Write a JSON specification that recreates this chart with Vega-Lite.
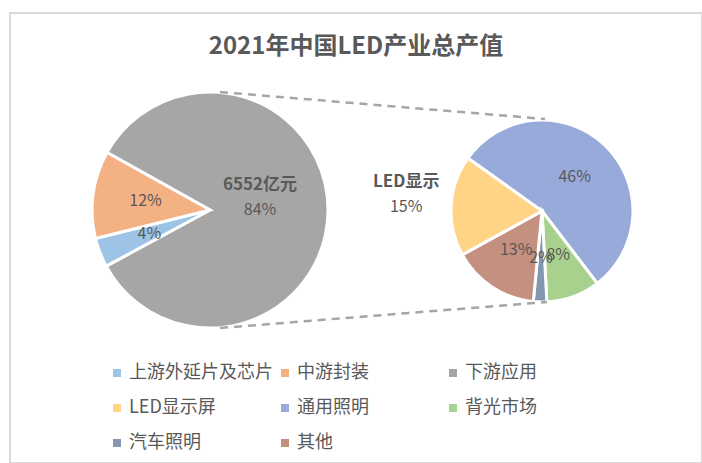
{
  "$schema": "https://vega.github.io/schema/vega-lite/v6.json",
  "width": 692,
  "height": 450,
  "autosize": {"type": "none"},
  "padding": {"left": 10, "top": 13, "right": 0, "bottom": 0},
  "background": "white",
  "config": {
    "view": {"stroke": "#d9d9d9", "strokeWidth": 2},
    "font": "Noto Sans CJK SC",
    "text": {"font": "Noto Sans CJK SC"}
  },
  "title": {
    "text": "2021年中国LED产业总产值",
    "fontSize": 24,
    "fontWeight": "bold",
    "color": "#595959",
    "font": "Noto Sans CJK SC",
    "anchor": "middle",
    "frame": "group",
    "offset": -46
  },
  "datasets": {
    "level1": [
      {"cat": "下游应用", "share": 0.84, "ord": 1, "pie": "总产值", "name": "6552亿元"},
      {"cat": "上游外延片及芯片", "share": 0.04, "ord": 2, "pie": "总产值", "name": ""},
      {"cat": "中游封装", "share": 0.12, "ord": 3, "pie": "总产值", "name": ""}
    ],
    "level2": [
      {"cat": "通用照明", "share": 0.46, "ord": 1, "pie": "下游应用", "name": ""},
      {"cat": "背光市场", "share": 0.08, "ord": 2, "pie": "下游应用", "name": ""},
      {"cat": "汽车照明", "share": 0.02, "ord": 3, "pie": "下游应用", "name": ""},
      {"cat": "其他", "share": 0.13, "ord": 4, "pie": "下游应用", "name": ""},
      {"cat": "LED显示屏", "share": 0.15, "ord": 5, "pie": "下游应用", "name": "LED显示"}
    ],
    "links": [{"link": "连接"}]
  },
  "layer": [
    {
      "data": {"name": "level1"},
      "encoding": {
        "x": {"field": "pie", "type": "nominal", "scale": {"type": "point", "domain": ["总产值", "下游应用"], "range": [200, 532], "padding": 0}, "axis": null},
        "y": {"field": "pie", "type": "nominal", "scale": {"type": "point", "domain": ["总产值", "下游应用"], "range": [197, 198], "padding": 0}, "axis": null},
        "theta": {"field": "share", "type": "quantitative", "stack": true, "scale": {"range": [5.222, 11.5052]}},
        "order": {"field": "ord", "type": "quantitative"}
      },
      "layer": [
        {
          "mark": {"type": "arc", "outerRadius": 118, "stroke": "white", "strokeWidth": 3},
          "encoding": {
            "color": {
              "field": "cat",
              "type": "nominal",
              "scale": {
                "domain": ["上游外延片及芯片", "中游封装", "下游应用", "LED显示屏", "通用照明", "背光市场", "汽车照明", "其他"],
                "range": ["#9DC3E6", "#F4B183", "#A6A6A6", "#FFD486", "#98AAD9", "#A9D18E", "#8497B0", "#C4907F"]
              },
              "legend": {
                "title": null,
                "orient": "none",
                "legendX": 98,
                "legendY": 351,
                "direction": "horizontal",
                "columns": 3,
                "gridAlign": "all",
                "columnPadding": 3,
                "rowPadding": 17,
                "padding": 0,
                "symbolType": "square",
                "symbolSize": 64,
                "symbolStrokeWidth": 0,
                "labelFontSize": 18,
                "labelFont": "Noto Sans CJK SC",
                "labelColor": "#595959",
                "labelOffset": 3,
                "labelLimit": 200
              }
            }
          }
        },
        {
          "mark": {"type": "text", "radius": 65, "fontSize": 16, "fill": "#595959"},
          "encoding": {
            "text": {"condition": {"test": "datum.cat === '下游应用'", "value": ""}, "field": "share", "type": "quantitative", "format": ".0%"}
          }
        },
        {
          "mark": {"type": "text", "radius": 50, "dy": -25, "fontSize": 17, "fontWeight": "bold", "fill": "#595959"},
          "encoding": {"text": {"field": "name", "type": "nominal"}}
        },
        {
          "mark": {"type": "text", "radius": 50, "dy": 0, "fontSize": 16, "fill": "#595959"},
          "encoding": {
            "text": {"condition": {"test": "datum.cat !== '下游应用'", "value": ""}, "field": "share", "type": "quantitative", "format": ".0%"}
          }
        }
      ]
    },
    {
      "data": {"name": "level2"},
      "encoding": {
        "x": {"field": "pie", "type": "nominal", "scale": {"type": "point", "domain": ["总产值", "下游应用"], "range": [200, 532], "padding": 0}, "axis": null},
        "y": {"field": "pie", "type": "nominal", "scale": {"type": "point", "domain": ["总产值", "下游应用"], "range": [197, 198], "padding": 0}, "axis": null},
        "theta": {"field": "share", "type": "quantitative", "stack": true, "scale": {"range": [5.332, 11.6152]}},
        "order": {"field": "ord", "type": "quantitative"}
      },
      "layer": [
        {
          "mark": {"type": "arc", "outerRadius": 91, "stroke": "white", "strokeWidth": 3},
          "encoding": {"color": {"field": "cat", "type": "nominal"}}
        },
        {
          "mark": {"type": "text", "radius": 47, "fontSize": 16, "fill": "#595959"},
          "encoding": {
            "text": {"condition": {"test": "datum.cat === 'LED显示屏'", "value": ""}, "field": "share", "type": "quantitative", "format": ".0%"}
          }
        },
        {
          "mark": {"type": "text", "radius": 136, "dy": -21, "fontSize": 17, "fontWeight": "bold", "fill": "#595959"},
          "encoding": {"text": {"field": "name", "type": "nominal"}}
        },
        {
          "mark": {"type": "text", "radius": 136, "dy": 4, "fontSize": 16, "fill": "#595959"},
          "encoding": {
            "text": {"condition": {"test": "datum.cat !== 'LED显示屏'", "value": ""}, "field": "share", "type": "quantitative", "format": ".0%"}
          }
        }
      ]
    },
    {
      "data": {"name": "links"},
      "mark": {"type": "rule", "stroke": "#A6A6A6", "strokeWidth": 2.5, "strokeDash": [8, 6]},
      "encoding": {
        "x": {"datum": "总产值", "type": "nominal", "scale": {"type": "point", "domain": ["总产值", "下游应用"], "range": [210, 535], "padding": 0}, "axis": null},
        "x2": {"datum": "下游应用"},
        "y": {"datum": "总产值上沿", "type": "nominal", "scale": {"type": "point", "domain": ["总产值上沿", "下游应用上沿"], "range": [79, 106], "padding": 0}, "axis": null},
        "y2": {"datum": "下游应用上沿"}
      }
    },
    {
      "data": {"name": "links"},
      "mark": {"type": "rule", "stroke": "#A6A6A6", "strokeWidth": 2.5, "strokeDash": [8, 6]},
      "encoding": {
        "x": {"datum": "总产值", "type": "nominal", "scale": {"type": "point", "domain": ["总产值", "下游应用"], "range": [210, 537], "padding": 0}, "axis": null},
        "x2": {"datum": "下游应用"},
        "y": {"datum": "总产值下沿", "type": "nominal", "scale": {"type": "point", "domain": ["总产值下沿", "下游应用下沿"], "range": [315, 289], "padding": 0}, "axis": null},
        "y2": {"datum": "下游应用下沿"}
      }
    }
  ],
  "resolve": {"scale": {"theta": "independent", "x": "independent", "y": "independent"}}
}
